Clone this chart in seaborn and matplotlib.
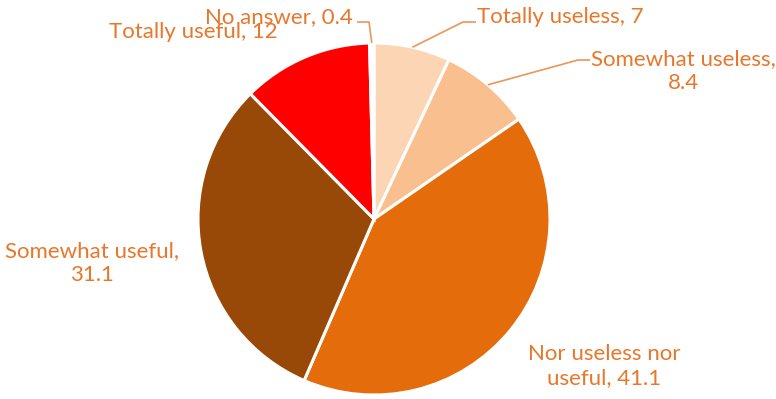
import numpy as np
import matplotlib
matplotlib.use("Agg")
import matplotlib.pyplot as plt
import seaborn as sns

# Survey answers, percentages
categories = ["Totally useless", "Somewhat useless", "Nor useless nor useful",
              "Somewhat useful", "Totally useful", "No answer"]
values = [7, 8.4, 41.1, 31.1, 12, 0.4]
slice_colors = ["#FCD5B5", "#FABF8F", "#E46C0A", "#984807", "#FF0000", "#FFFFFF"]

TEXT_COLOR = "#E8772A"
LINE_COLOR = "#EC9558"

sns.set_theme(style="white")
plt.rcParams["font.family"] = ["Lato", "DejaVu Sans"]

W, H = 776, 399
CX, CY, R = 374, 219, 176  # pie centre and radius in pixels

fig = plt.figure(figsize=(W / 100, H / 100), dpi=100)
ax = fig.add_axes([0, 0, 1, 1])


def px(x, y):
    """Pixel position -> data coordinates (radius = 1)."""
    return (x - CX) / R, (CY - y) / R


wedges, _ = ax.pie(values, colors=slice_colors, startangle=90, counterclock=False,
                   radius=1, center=(0, 0), frame=True,
                   wedgeprops=dict(edgecolor="white", linewidth=2.2))
ax.set_aspect("auto")
ax.set_xlim((0 - CX) / R, (W - CX) / R)
ax.set_ylim((CY - H) / R, CY / R)
ax.axis("off")

labels = [f"{c}, {v:g}" for c, v in zip(categories, values)]
labels[1] = f"{categories[1]},\n{values[1]:g}"
labels[2] = f"Nor useless nor\nuseful, {values[2]:g}"
labels[3] = f"{categories[3]},\n{values[3]:g}"

# label anchor (pixels), horizontal alignment, leader elbow points (pixels) or None
layout = [
    ((477, 17), "left", [(463, 22), (476, 22)]),
    ((683, 71), "center", [(578, 60), (590, 60)]),
    ((604, 366), "center", None),
    ((92, 263), "center", None),
    ((193, 32), "center", None),
    ((353, 17), "right", [(369, 22), (357, 22)]),
]

for w, text, (pos, ha, elbow) in zip(wedges, labels, layout):
    ax.text(*px(*pos), text, ha=ha, va="center", ma="center", color=TEXT_COLOR,
            fontsize=16, linespacing=1.2)
    if elbow is not None:
        mid = np.deg2rad((w.theta1 + w.theta2) / 2)
        xs = [np.cos(mid)] + [px(*p)[0] for p in elbow]
        ys = [np.sin(mid)] + [px(*p)[1] for p in elbow]
        ax.plot(xs, ys, color=LINE_COLOR, lw=1.2, solid_capstyle="butt")

fig.savefig("out.png", dpi=100, facecolor="white")
